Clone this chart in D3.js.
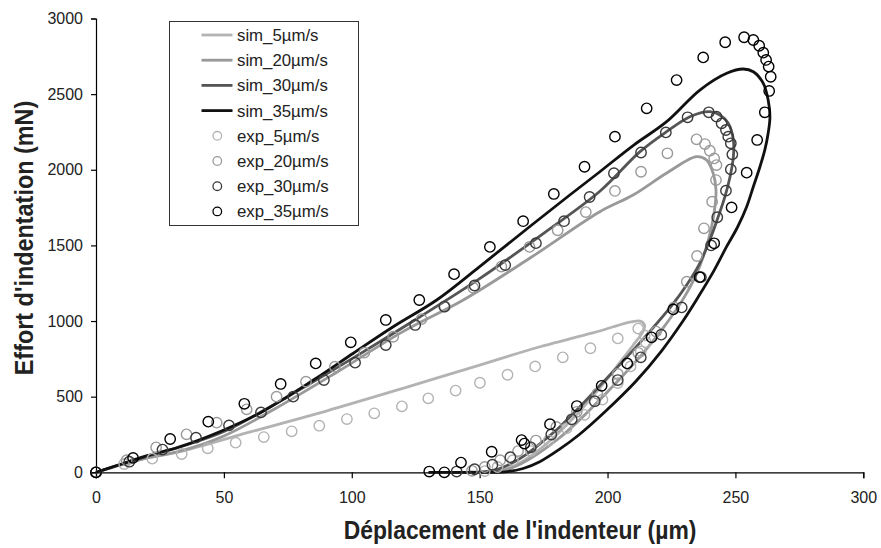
<!DOCTYPE html>
<html><head><meta charset="utf-8">
<script src="https://cdn.jsdelivr.net/npm/d3@7"></script>
<style>
html,body{margin:0;padding:0;background:#fff;}
svg{display:block;font-family:"Liberation Sans",Arial,sans-serif;}
</style></head>
<body><svg id="c" width="881" height="548"></svg>
<script>
// ---- data ----
const seriesNames = ["sim_5µm/s","sim_20µm/s","sim_30µm/s","sim_35µm/s","exp_5µm/s","exp_20µm/s","exp_30µm/s","exp_35µm/s"];
const xTicks = [0,50,100,150,200,250,300];
const yTicks = [0,500,1000,1500,2000,2500,3000];

const sim5 = [[0,0],[5,25],[10,50],[20,95],[32.8,136],[60,265],[90,405],[120,555],[150,709],[173.6,830],[195,925],[212.7,1000],[214.5,970],[213.5,920],[210,840],[205,730],[199,600],[192,460],[185,330],[178,215],[171,120],[165,55],[160,18],[156,3],[152,0]];
const sim20 = [[0,0],[10,50],[20,95],[32.8,140],[50,240],[70,420],[94,660],[120,930],[143.6,1139],[170,1420],[197,1723],[210,1833],[223,1977],[234.8,2087],[238.7,2065],[241.3,1977],[242.4,1866],[242,1756],[240.7,1624],[238.3,1470],[234.5,1300],[229,1130],[222,960],[214,790],[205.5,630],[197,480],[189,345],[181,225],[173,125],[166,55],[160,15],[155,2],[150,0]];
const sim30 = [[0,0],[10,55],[20,105],[35,180],[50,270],[75,500],[100,750],[125,1010],[150,1280],[175,1580],[197,1858],[212.7,2120],[223.1,2252],[232.2,2351],[240,2384],[243.9,2362],[247.2,2307],[249.2,2197],[249.2,2086],[247.9,1954],[245.9,1822],[243.3,1690],[240,1536],[236,1380],[231,1240],[225,1100],[217,940],[208,770],[198.5,600],[189,430],[181,295],[174,195],[168,115],[162,55],[157,20],[152,5],[145,0],[138,0]];
const sim35 = [[0,0],[10,55],[20,110],[32.8,169],[50,280],[64.5,396],[85,610],[100.6,787],[116.2,962],[133.2,1139],[150,1360],[170,1630],[185,1830],[197,1987],[210,2160],[223.1,2318],[236.1,2527],[246.6,2638],[253.1,2666],[257,2648],[260.9,2571],[262.8,2461],[263.5,2351],[262.8,2241],[261.5,2131],[259.6,2020],[257,1888],[254.4,1756],[250.8,1620],[246.5,1490],[241.5,1330],[235.5,1160],[229.5,1000],[221,800],[211,600],[199,400],[189,250],[181,150],[173.5,70],[167,25],[161,5],[155,0],[130,0]];

const exp5 = [[0,0],[11,55],[22,90],[33.5,121],[43.7,159],[54.6,196],[65.6,233],[76.5,271],[87.3,308],[98.1,352],[108.8,390],[119.6,436],[129.9,489],[140.6,540],[150.1,592],[160.9,645],[171.7,700],[182.5,760],[193.3,820],[204,885],[212,950],[214.5,905],[215,860],[213,800],[209,700],[204,590],[198,480],[191,380],[184,290],[177,210],[170,140],[163,80],[157,35],[152,8]];
const exp20 = [[0,0],[12,80],[23.5,165],[35.4,251],[47.2,328],[58.9,416],[70.6,500],[82.1,599],[93.4,698],[104.9,791],[116.2,896],[127.3,1013],[136.4,1095],[147.5,1220],[158.5,1360],[169.5,1490],[180.5,1600],[191.5,1720],[202.9,1860],[213.1,1987],[223.4,2109],[234.8,2201],[238.1,2170],[240,2126],[241.7,2075],[242.6,2031],[242.4,1932],[240.9,1789],[237.7,1613],[235,1430],[231,1260],[226,1090],[219,930],[212,790],[204,650],[196,520],[188,400],[180,300],[172,210],[165,140],[158,80],[152,35],[147,10]];
const exp30 = [[0,0],[13,70],[26,150],[39.1,229],[52,310],[64.5,396],[77.1,500],[89.1,610],[101.3,725],[113.3,841],[124.8,974],[136.2,1095],[148,1235],[160,1370],[172,1515],[183,1660],[193,1820],[202.5,1977],[213.1,2114],[222.8,2247],[231.3,2347],[239.6,2380],[242.6,2351],[244.6,2307],[246.3,2263],[247.2,2219],[248.2,2175],[248.8,2102],[248.2,2003],[246.3,1862],[242.9,1686],[240.5,1500],[236.5,1290],[229,1090],[221,910],[213,760],[204,610],[195,470],[186,350],[178,250],[170,165],[162,100],[155,50],[148,20],[141,5]];
const exp35 = [[0,0],[14.5,95],[29,220],[43.9,335],[58,453],[72.2,584],[85.9,720],[99.6,859],[113.3,1007],[126.4,1139],[140,1310],[154,1490],[167,1660],[179,1840],[191,2020],[202.9,2219],[215.3,2406],[227,2593],[237.4,2743],[246,2843],[253.4,2876],[257,2858],[259.3,2820],[260.9,2774],[262,2726],[263,2682],[263.8,2615],[263.2,2521],[261.5,2380],[258.5,2197],[254.4,1981],[248.5,1751],[241.7,1514],[236,1290],[225.7,1077],[217.2,892],[207.7,720],[197.7,572],[188,438],[177.5,318],[166.4,213],[167.5,190],[154.7,136],[142.7,64],[136.2,0],[130.3,5]];

const simSeries = [sim5, sim20, sim30, sim35];
const expSeries = [exp5, exp20, exp30, exp35];
const simColors = ["#b3b3b3","#999999","#555555","#111111"];
const expColors = ["#b3b3b3","#9a9a9a","#3a3a3a","#000000"];

// ---- chart ----
const svg = d3.select("#c");
const x = d3.scaleLinear().domain([0,300]).range([96,863.3]);
const y = d3.scaleLinear().domain([0,3000]).range([472.3,18.5]);

const gx = svg.append("g").attr("transform","translate(0,472.3)")
  .call(d3.axisBottom(x).tickValues(xTicks).tickFormat(d3.format("d")).tickSize(6).tickPadding(13));
const gy = svg.append("g").attr("transform","translate(96,0)")
  .call(d3.axisLeft(y).tickValues(yTicks).tickFormat(d3.format("d")).tickSize(5).tickPadding(8));
[gx,gy].forEach(g=>{
  g.select(".domain").attr("stroke","#000").attr("stroke-width",1.2);
  g.selectAll(".tick line").attr("stroke","#000").attr("stroke-width",1.2);
  g.selectAll(".tick text").attr("font-family","Liberation Sans, Arial, sans-serif").attr("font-size",16).attr("fill","#222");
});

const line = d3.line().x(d=>x(d[0])).y(d=>y(d[1])).curve(d3.curveCatmullRom.alpha(0.5));
simSeries.forEach((s,i)=>{
  svg.append("path").datum(s).attr("d",line).attr("fill","none")
    .attr("stroke",simColors[i]).attr("stroke-width",2.8).attr("stroke-linejoin","round");
});
expSeries.forEach((s,i)=>{
  svg.append("g").selectAll("circle").data(s).join("circle")
    .attr("cx",d=>x(d[0])).attr("cy",d=>y(d[1])).attr("r",5.2)
    .attr("fill","none").attr("stroke",expColors[i]).attr("stroke-width",1.4);
});

// axis titles
svg.append("text").attr("transform","translate(520,539) scale(0.88,1)")
  .attr("text-anchor","middle").attr("font-weight","bold").attr("font-size",26).attr("fill","#222")
  .text("Déplacement de l'indenteur (µm)");
svg.append("text").attr("transform","translate(33,238) rotate(-90) scale(0.9,1)")
  .attr("text-anchor","middle").attr("font-weight","bold").attr("font-size",26).attr("fill","#222")
  .text("Effort d'indentation (mN)");

// legend
const lg = svg.append("g");
lg.append("rect").attr("x",169.5).attr("y",21.5).attr("width",189).attr("height",204)
  .attr("fill","#fff").attr("stroke","#333").attr("stroke-width",1);
seriesNames.forEach((n,i)=>{
  const cy = 35 + i*25.2;
  if(i<4){
    lg.append("line").attr("x1",201.5).attr("x2",232.5).attr("y1",cy).attr("y2",cy)
      .attr("stroke",simColors[i]).attr("stroke-width",2.8);
  } else {
    lg.append("circle").attr("cx",217.3).attr("cy",cy).attr("r",4.3)
      .attr("fill","none").attr("stroke",expColors[i-4]).attr("stroke-width",1.3);
  }
  lg.append("text").attr("x",237).attr("y",cy+6).attr("font-size",16.8).attr("fill","#222").text(n);
});
</script></body></html>
